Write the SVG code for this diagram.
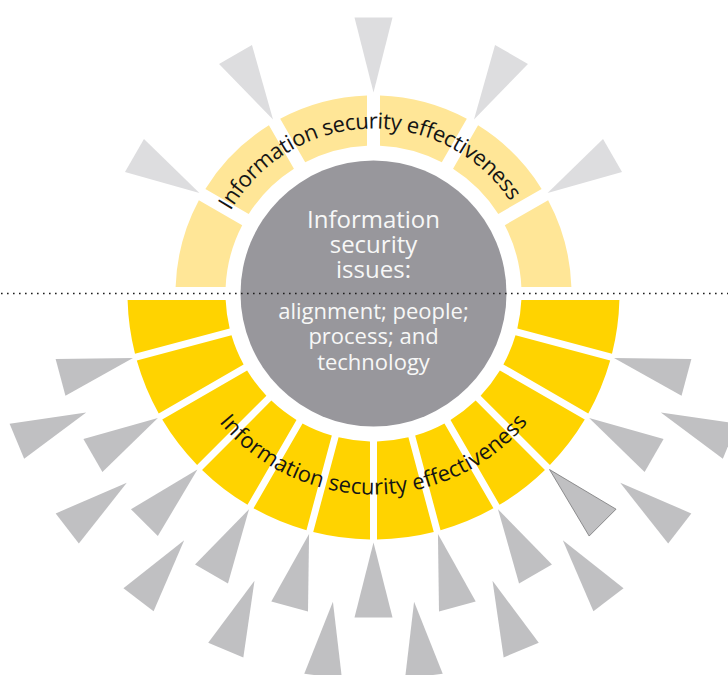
<svg xmlns="http://www.w3.org/2000/svg" width="728" height="675" viewBox="0 0 728 675">
  <style>
    .seg-upper { fill: #FFE697; }
    .seg-lower { fill: #FFD300; }
    .tri-upper { fill: #DDDDDF; }
    .tri-lower { fill: #C0C0C2; }
    .tri-marked { fill: #C0C0C2; stroke: #707072; stroke-width: 0.7; }
    .arc-label { font-family: "Open Sans", "Liberation Sans", sans-serif; font-size: 22px; fill: #151515; }
    .core-label { font-family: "Open Sans", "Liberation Sans", sans-serif; font-weight: 400; fill: #F7F7F7; text-anchor: middle; }
  </style>
  <defs>
    <!-- upper ring segment: 30 degrees wide, centred on +x, 13px gaps -->
    <path id="segU" d="M144.501,-31.989 L192.833,-44.940 A198,198 0 0 1 192.833,44.940 L144.501,31.989 A148,148 0 0 0 144.501,-31.989 Z"/>
    <!-- lower ring segment: 15 degrees wide, centred on +x, 7px gaps -->
    <path id="segL" d="M147.150,-15.842 L244.328,-28.636 A246,246 0 0 1 244.328,28.636 L147.150,15.842 A148,148 0 0 0 147.150,-15.842 Z"/>
    <!-- lower ring end segment (0 to 15 degrees), flat top edge -->
    <path id="segLEnd" d="M147.857,6.5 L245.914,6.5 A246,246 0 0 1 238.501,60.283 L143.824,34.914 A148,148 0 0 0 147.857,6.5 Z"/>
    <!-- pointer: tip at origin, base 75px out -->
    <path id="tri" d="M0,0 L75,-19 L75,19 Z"/>
    <path id="arcTop" d="M-165,0 A165,165 0 0 1 165,0"/>
    <path id="arcBottom" d="M-201,0 A201,201 0 0 0 201,0"/>
  </defs>

  <g transform="translate(373.5,293.5)">
    <g id="upper-pointers" class="tri-upper">
      <use href="#tri" transform="rotate(210) translate(201,0)"/>
      <use href="#tri" transform="rotate(240) translate(201,0)"/>
      <use href="#tri" transform="rotate(270) translate(201,0)"/>
      <use href="#tri" transform="rotate(300) translate(201,0)"/>
      <use href="#tri" transform="rotate(330) translate(201,0)"/>
    </g>

    <g id="lower-pointers-inner" class="tri-lower">
      <use href="#tri" transform="rotate(15) translate(249,0)"/>
      <use href="#tri" transform="rotate(30) translate(249,0)"/>
      <use href="#tri" class="tri-marked" transform="rotate(45) translate(249,0)"/>
      <use href="#tri" transform="rotate(60) translate(249,0)"/>
      <use href="#tri" transform="rotate(75) translate(249,0)"/>
      <use href="#tri" transform="rotate(90) translate(249,0)"/>
      <use href="#tri" transform="rotate(105) translate(249,0)"/>
      <use href="#tri" transform="rotate(120) translate(249,0)"/>
      <use href="#tri" transform="rotate(135) translate(249,0)"/>
      <use href="#tri" transform="rotate(150) translate(249,0)"/>
      <use href="#tri" transform="rotate(165) translate(249,0)"/>
    </g>

    <g id="lower-pointers-outer" class="tri-lower">
      <use href="#tri" transform="rotate(22.5) translate(311,0)"/>
      <use href="#tri" transform="rotate(37.5) translate(311,0)"/>
      <use href="#tri" transform="rotate(52.5) translate(311,0)"/>
      <use href="#tri" transform="rotate(67.5) translate(311,0)"/>
      <use href="#tri" transform="rotate(82.5) translate(311,0)"/>
      <use href="#tri" transform="rotate(97.5) translate(311,0)"/>
      <use href="#tri" transform="rotate(112.5) translate(311,0)"/>
      <use href="#tri" transform="rotate(127.5) translate(311,0)"/>
      <use href="#tri" transform="rotate(142.5) translate(311,0)"/>
      <use href="#tri" transform="rotate(157.5) translate(311,0)"/>
    </g>

    <g id="upper-ring" class="seg-upper">
      <use href="#segU" transform="rotate(195)"/>
      <use href="#segU" transform="rotate(225)"/>
      <use href="#segU" transform="rotate(255)"/>
      <use href="#segU" transform="rotate(285)"/>
      <use href="#segU" transform="rotate(315)"/>
      <use href="#segU" transform="rotate(345)"/>
      <text class="arc-label"><textPath href="#arcTop" startOffset="253.4" text-anchor="middle" textLength="334">Information security effectiveness</textPath></text>
    </g>

    <g id="lower-ring" class="seg-lower">
      <use href="#segLEnd"/>
      <use href="#segL" transform="rotate(22.5)"/>
      <use href="#segL" transform="rotate(37.5)"/>
      <use href="#segL" transform="rotate(52.5)"/>
      <use href="#segL" transform="rotate(67.5)"/>
      <use href="#segL" transform="rotate(82.5)"/>
      <use href="#segL" transform="rotate(97.5)"/>
      <use href="#segL" transform="rotate(112.5)"/>
      <use href="#segL" transform="rotate(127.5)"/>
      <use href="#segL" transform="rotate(142.5)"/>
      <use href="#segL" transform="rotate(157.5)"/>
      <use href="#segLEnd" transform="scale(-1,1)"/>
      <text class="arc-label"><textPath href="#arcBottom" startOffset="50%" text-anchor="middle" textLength="352">Information security effectiveness</textPath></text>
    </g>

    <g id="core">
      <circle r="133" fill="#98979C"/>
    </g>
  </g>

  <g id="core-labels" class="core-label">
    <text font-size="24"><tspan x="373.5" y="227.5">Information</tspan><tspan x="373.5" y="252.5">security</tspan><tspan x="373.5" y="278">issues:</tspan></text>
    <text font-size="22"><tspan x="373.5" y="318.5">alignment; people;</tspan><tspan x="373.5" y="344">process; and</tspan><tspan x="373.5" y="369.5">technology</tspan></text>
  </g>

  <!-- dotted divider across the full width -->
  <line x1="1" y1="293.5" x2="728" y2="293.5" stroke="#1E1E1E" stroke-width="1.6" stroke-dasharray="1.6 4.4"/>
</svg>
